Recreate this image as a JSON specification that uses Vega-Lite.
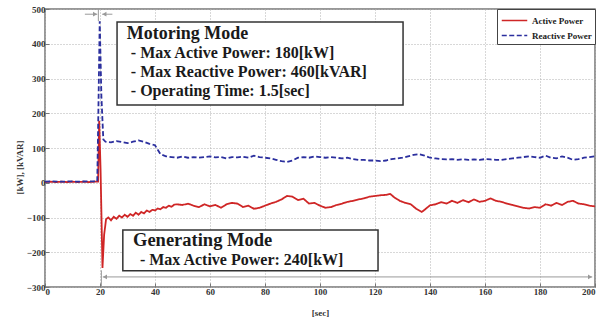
{
  "$schema": "https://vega.github.io/schema/vega-lite/v6.json",
  "width": 550,
  "height": 278,
  "autosize": {"type": "none"},
  "padding": {"left": 45, "top": 9, "right": 10, "bottom": 32},
  "background": "white",
  "config": {
    "view": {"stroke": "#777", "strokeWidth": 1.5},
    "axis": {
      "labelFont": "Liberation Serif", "labelFontWeight": "bold", "labelFontSize": 9, "labelColor": "#333",
      "titleFont": "Liberation Serif", "titleFontWeight": "bold", "titleFontSize": 9, "titleColor": "#333",
      "gridColor": "#b0b0b0", "gridDash": [1, 2], "gridWidth": 1,
      "domain": false, "tickColor": "#777", "tickSize": -4, "labelPadding": 4
    },
    "legend": {
      "orient": "top-right", "offset": 0, "strokeColor": "#444", "fillColor": "white", "padding": 3,
      "labelFont": "Liberation Serif", "labelFontWeight": "bold", "labelFontSize": 9, "labelColor": "#222",
      "symbolType": "M-1.7,0H1.7", "symbolSize": 225, "symbolStrokeWidth": 1.6,
      "labelOffset": 9, "symbolOffset": 6, "rowPadding": 1
    }
  },
  "layer": [
    {
      "data": {"values": [
        {"t":0,"p":2,"s":"Active Power"},{"t":2,"p":3,"s":"Active Power"},{"t":4,"p":2,"s":"Active Power"},{"t":6,"p":3,"s":"Active Power"},{"t":8,"p":2,"s":"Active Power"},{"t":10,"p":3,"s":"Active Power"},{"t":12,"p":2,"s":"Active Power"},{"t":14,"p":3,"s":"Active Power"},{"t":16,"p":2,"s":"Active Power"},{"t":18,"p":3,"s":"Active Power"},{"t":19.3,"p":3,"s":"Active Power"},{"t":19.7,"p":178,"s":"Active Power"},{"t":20.2,"p":40,"s":"Active Power"},{"t":20.9,"p":-245,"s":"Active Power"},{"t":21.5,"p":-150,"s":"Active Power"},{"t":22.2,"p":-105,"s":"Active Power"},{"t":23,"p":-100,"s":"Active Power"},{"t":24,"p":-108,"s":"Active Power"},{"t":25,"p":-98,"s":"Active Power"},{"t":26,"p":-104,"s":"Active Power"},{"t":27,"p":-95,"s":"Active Power"},{"t":28,"p":-100,"s":"Active Power"},{"t":29,"p":-92,"s":"Active Power"},{"t":30,"p":-98,"s":"Active Power"},{"t":31,"p":-90,"s":"Active Power"},{"t":32,"p":-95,"s":"Active Power"},{"t":33,"p":-86,"s":"Active Power"},{"t":34,"p":-92,"s":"Active Power"},{"t":35,"p":-84,"s":"Active Power"},{"t":36,"p":-88,"s":"Active Power"},{"t":37,"p":-80,"s":"Active Power"},{"t":38,"p":-84,"s":"Active Power"},{"t":39,"p":-78,"s":"Active Power"},{"t":40,"p":-80,"s":"Active Power"},{"t":41,"p":-74,"s":"Active Power"},{"t":42,"p":-76,"s":"Active Power"},{"t":43,"p":-70,"s":"Active Power"},{"t":44,"p":-72,"s":"Active Power"},{"t":45,"p":-66,"s":"Active Power"},{"t":46,"p":-69,"s":"Active Power"},{"t":47,"p":-63,"s":"Active Power"},{"t":48,"p":-62,"s":"Active Power"},{"t":50,"p":-64,"s":"Active Power"},{"t":52,"p":-60,"s":"Active Power"},{"t":54,"p":-66,"s":"Active Power"},{"t":56,"p":-70,"s":"Active Power"},{"t":58,"p":-62,"s":"Active Power"},{"t":60,"p":-68,"s":"Active Power"},{"t":62,"p":-64,"s":"Active Power"},{"t":64,"p":-72,"s":"Active Power"},{"t":66,"p":-62,"s":"Active Power"},{"t":68,"p":-58,"s":"Active Power"},{"t":70,"p":-60,"s":"Active Power"},{"t":72,"p":-70,"s":"Active Power"},{"t":74,"p":-66,"s":"Active Power"},{"t":76,"p":-75,"s":"Active Power"},{"t":78,"p":-72,"s":"Active Power"},{"t":80,"p":-66,"s":"Active Power"},{"t":82,"p":-60,"s":"Active Power"},{"t":84,"p":-55,"s":"Active Power"},{"t":86,"p":-48,"s":"Active Power"},{"t":88,"p":-38,"s":"Active Power"},{"t":90,"p":-40,"s":"Active Power"},{"t":92,"p":-50,"s":"Active Power"},{"t":94,"p":-46,"s":"Active Power"},{"t":96,"p":-60,"s":"Active Power"},{"t":98,"p":-58,"s":"Active Power"},{"t":100,"p":-66,"s":"Active Power"},{"t":102,"p":-72,"s":"Active Power"},{"t":104,"p":-70,"s":"Active Power"},{"t":106,"p":-64,"s":"Active Power"},{"t":108,"p":-60,"s":"Active Power"},{"t":110,"p":-55,"s":"Active Power"},{"t":112,"p":-52,"s":"Active Power"},{"t":114,"p":-48,"s":"Active Power"},{"t":116,"p":-45,"s":"Active Power"},{"t":118,"p":-40,"s":"Active Power"},{"t":120,"p":-38,"s":"Active Power"},{"t":122,"p":-36,"s":"Active Power"},{"t":124,"p":-35,"s":"Active Power"},{"t":125.5,"p":-32,"s":"Active Power"},{"t":127,"p":-42,"s":"Active Power"},{"t":129,"p":-52,"s":"Active Power"},{"t":131,"p":-58,"s":"Active Power"},{"t":133,"p":-62,"s":"Active Power"},{"t":135,"p":-75,"s":"Active Power"},{"t":137,"p":-84,"s":"Active Power"},{"t":138,"p":-78,"s":"Active Power"},{"t":140,"p":-65,"s":"Active Power"},{"t":142,"p":-62,"s":"Active Power"},{"t":144,"p":-56,"s":"Active Power"},{"t":146,"p":-60,"s":"Active Power"},{"t":148,"p":-52,"s":"Active Power"},{"t":150,"p":-58,"s":"Active Power"},{"t":152,"p":-50,"s":"Active Power"},{"t":154,"p":-56,"s":"Active Power"},{"t":156,"p":-48,"s":"Active Power"},{"t":158,"p":-55,"s":"Active Power"},{"t":160,"p":-52,"s":"Active Power"},{"t":162,"p":-45,"s":"Active Power"},{"t":164,"p":-52,"s":"Active Power"},{"t":166,"p":-55,"s":"Active Power"},{"t":168,"p":-60,"s":"Active Power"},{"t":170,"p":-64,"s":"Active Power"},{"t":172,"p":-68,"s":"Active Power"},{"t":174,"p":-72,"s":"Active Power"},{"t":176,"p":-74,"s":"Active Power"},{"t":178,"p":-70,"s":"Active Power"},{"t":180,"p":-72,"s":"Active Power"},{"t":182,"p":-62,"s":"Active Power"},{"t":184,"p":-66,"s":"Active Power"},{"t":186,"p":-58,"s":"Active Power"},{"t":188,"p":-64,"s":"Active Power"},{"t":190,"p":-55,"s":"Active Power"},{"t":192,"p":-52,"s":"Active Power"},{"t":194,"p":-60,"s":"Active Power"},{"t":196,"p":-62,"s":"Active Power"},{"t":198,"p":-66,"s":"Active Power"},{"t":200,"p":-68,"s":"Active Power"},
        {"t":0,"p":3,"s":"Reactive Power"},{"t":3,"p":4,"s":"Reactive Power"},{"t":6,"p":3,"s":"Reactive Power"},{"t":9,"p":4,"s":"Reactive Power"},{"t":12,"p":3,"s":"Reactive Power"},{"t":15,"p":4,"s":"Reactive Power"},{"t":19,"p":4,"s":"Reactive Power"},{"t":19.4,"p":200,"s":"Reactive Power"},{"t":19.9,"p":465,"s":"Reactive Power"},{"t":20.5,"p":250,"s":"Reactive Power"},{"t":21.2,"p":125,"s":"Reactive Power"},{"t":22,"p":118,"s":"Reactive Power"},{"t":24,"p":116,"s":"Reactive Power"},{"t":26,"p":120,"s":"Reactive Power"},{"t":28,"p":117,"s":"Reactive Power"},{"t":30,"p":114,"s":"Reactive Power"},{"t":32,"p":118,"s":"Reactive Power"},{"t":34,"p":122,"s":"Reactive Power"},{"t":36,"p":118,"s":"Reactive Power"},{"t":38,"p":112,"s":"Reactive Power"},{"t":40,"p":108,"s":"Reactive Power"},{"t":41,"p":95,"s":"Reactive Power"},{"t":42,"p":82,"s":"Reactive Power"},{"t":44,"p":76,"s":"Reactive Power"},{"t":46,"p":74,"s":"Reactive Power"},{"t":48,"p":72,"s":"Reactive Power"},{"t":50,"p":76,"s":"Reactive Power"},{"t":52,"p":72,"s":"Reactive Power"},{"t":54,"p":74,"s":"Reactive Power"},{"t":56,"p":72,"s":"Reactive Power"},{"t":58,"p":74,"s":"Reactive Power"},{"t":60,"p":76,"s":"Reactive Power"},{"t":62,"p":73,"s":"Reactive Power"},{"t":64,"p":74,"s":"Reactive Power"},{"t":66,"p":70,"s":"Reactive Power"},{"t":68,"p":74,"s":"Reactive Power"},{"t":70,"p":73,"s":"Reactive Power"},{"t":72,"p":75,"s":"Reactive Power"},{"t":74,"p":72,"s":"Reactive Power"},{"t":76,"p":78,"s":"Reactive Power"},{"t":78,"p":74,"s":"Reactive Power"},{"t":80,"p":72,"s":"Reactive Power"},{"t":82,"p":70,"s":"Reactive Power"},{"t":84,"p":66,"s":"Reactive Power"},{"t":86,"p":62,"s":"Reactive Power"},{"t":88,"p":60,"s":"Reactive Power"},{"t":90,"p":64,"s":"Reactive Power"},{"t":92,"p":72,"s":"Reactive Power"},{"t":94,"p":74,"s":"Reactive Power"},{"t":96,"p":72,"s":"Reactive Power"},{"t":98,"p":76,"s":"Reactive Power"},{"t":100,"p":74,"s":"Reactive Power"},{"t":102,"p":72,"s":"Reactive Power"},{"t":104,"p":74,"s":"Reactive Power"},{"t":106,"p":72,"s":"Reactive Power"},{"t":108,"p":70,"s":"Reactive Power"},{"t":110,"p":72,"s":"Reactive Power"},{"t":112,"p":68,"s":"Reactive Power"},{"t":114,"p":66,"s":"Reactive Power"},{"t":116,"p":66,"s":"Reactive Power"},{"t":118,"p":64,"s":"Reactive Power"},{"t":120,"p":64,"s":"Reactive Power"},{"t":122,"p":62,"s":"Reactive Power"},{"t":124,"p":64,"s":"Reactive Power"},{"t":126,"p":68,"s":"Reactive Power"},{"t":128,"p":70,"s":"Reactive Power"},{"t":130,"p":72,"s":"Reactive Power"},{"t":132,"p":76,"s":"Reactive Power"},{"t":134,"p":80,"s":"Reactive Power"},{"t":136,"p":82,"s":"Reactive Power"},{"t":138,"p":78,"s":"Reactive Power"},{"t":140,"p":72,"s":"Reactive Power"},{"t":142,"p":70,"s":"Reactive Power"},{"t":144,"p":68,"s":"Reactive Power"},{"t":146,"p":67,"s":"Reactive Power"},{"t":148,"p":68,"s":"Reactive Power"},{"t":150,"p":66,"s":"Reactive Power"},{"t":152,"p":68,"s":"Reactive Power"},{"t":154,"p":66,"s":"Reactive Power"},{"t":156,"p":67,"s":"Reactive Power"},{"t":158,"p":66,"s":"Reactive Power"},{"t":160,"p":68,"s":"Reactive Power"},{"t":162,"p":67,"s":"Reactive Power"},{"t":164,"p":66,"s":"Reactive Power"},{"t":166,"p":66,"s":"Reactive Power"},{"t":168,"p":68,"s":"Reactive Power"},{"t":170,"p":70,"s":"Reactive Power"},{"t":172,"p":72,"s":"Reactive Power"},{"t":174,"p":74,"s":"Reactive Power"},{"t":176,"p":76,"s":"Reactive Power"},{"t":178,"p":74,"s":"Reactive Power"},{"t":180,"p":72,"s":"Reactive Power"},{"t":182,"p":78,"s":"Reactive Power"},{"t":184,"p":72,"s":"Reactive Power"},{"t":186,"p":70,"s":"Reactive Power"},{"t":188,"p":76,"s":"Reactive Power"},{"t":190,"p":72,"s":"Reactive Power"},{"t":192,"p":66,"s":"Reactive Power"},{"t":194,"p":68,"s":"Reactive Power"},{"t":196,"p":72,"s":"Reactive Power"},{"t":198,"p":74,"s":"Reactive Power"},{"t":200,"p":76,"s":"Reactive Power"}
      ]},
      "mark": {"type": "line", "strokeWidth": 1.8},
      "encoding": {
        "x": {"field": "t", "type": "quantitative", "scale": {"domain": [0, 200], "nice": false},
              "axis": {"title": "[sec]", "values": [0,20,40,60,80,100,120,140,160,180,200], "titleY": 25, "titleBaseline": "middle", "labelOverlap": false}},
        "y": {"field": "p", "type": "quantitative", "scale": {"domain": [-300, 500], "nice": false},
              "axis": {"title": "[kW], [kVAR]", "values": [-300,-200,-100,0,100,200,300,400,500], "tickCount": 9, "labelOverlap": false, "labelSeparation": 0, "titleX": -26, "titleY": 158, "titleBaseline": "middle", "titleAlign": "center"}},
        "color": {"field": "s", "type": "nominal", "title": null,
                  "scale": {"domain": ["Active Power", "Reactive Power"], "range": ["#cf2626", "#2b2f9e"]}},
        "strokeDash": {"field": "s", "type": "nominal", "title": null,
                  "scale": {"domain": ["Active Power", "Reactive Power"], "range": [[1, 0], [5, 2.5]]}},
        "order": {"field": "t", "type": "quantitative"}
      }
    },
    {
      "data": {"values": [{}]},
      "mark": {"type": "rule", "color": "#999", "strokeWidth": 1},
      "encoding": {"x": {"datum": 21}, "x2": {"datum": 199}, "y": {"datum": -271}}
    },
    {
      "data": {"values": [{}]},
      "mark": {"type": "rule", "color": "#999", "strokeWidth": 1},
      "encoding": {"x": {"datum": 20.5}, "y": {"datum": -252}, "y2": {"datum": -300}}
    },
    {
      "data": {"values": [{}]},
      "mark": {"type": "rule", "color": "#999", "strokeWidth": 1},
      "encoding": {"x": {"datum": 14.5}, "x2": {"datum": 19}, "y": {"datum": 485}}
    },
    {
      "data": {"values": [{}]},
      "mark": {"type": "rule", "color": "#999", "strokeWidth": 1},
      "encoding": {"x": {"datum": 20.8}, "x2": {"datum": 24.5}, "y": {"datum": 485}}
    },
    {
      "data": {"values": [{}]},
      "mark": {"type": "rule", "color": "#999", "strokeWidth": 1},
      "encoding": {"x": {"datum": 19.4}, "y": {"datum": 500}, "y2": {"datum": 465}}
    },
    {
      "data": {"values": [{}]},
      "mark": {"type": "point", "shape": "triangle-right", "filled": true, "color": "#999", "size": 22, "opacity": 1},
      "encoding": {"x": {"datum": 18.2}, "y": {"datum": 485}}
    },
    {
      "data": {"values": [{}]},
      "mark": {"type": "point", "shape": "triangle-left", "filled": true, "color": "#999", "size": 22, "opacity": 1},
      "encoding": {"x": {"datum": 21.6}, "y": {"datum": 485}}
    },
    {
      "data": {"values": [{}]},
      "mark": {"type": "point", "shape": "triangle-left", "filled": true, "color": "#999", "size": 22, "opacity": 1},
      "encoding": {"x": {"datum": 21.8}, "y": {"datum": -271}}
    },
    {
      "data": {"values": [{}]},
      "mark": {"type": "point", "shape": "triangle-right", "filled": true, "color": "#999", "size": 22, "opacity": 1},
      "encoding": {"x": {"datum": 198.2}, "y": {"datum": -271}}
    },
    {
      "data": {"values": [{}]},
      "mark": {"type": "rect", "fill": "white", "stroke": "#333", "strokeWidth": 1.5},
      "encoding": {"x": {"datum": 26.2}, "x2": {"datum": 130.2}, "y": {"datum": 462.6}, "y2": {"datum": 223.7}}
    },
    {
      "data": {"values": [{}]},
      "mark": {"type": "rect", "fill": "white", "stroke": "#333", "strokeWidth": 1.5},
      "encoding": {"x": {"datum": 28.3}, "x2": {"datum": 121.1}, "y": {"datum": -136}, "y2": {"datum": -253}}
    },
    {
      "data": {"values": [{}]},
      "mark": {"type": "text", "text": "Motoring Mode", "font": "Liberation Serif", "fontWeight": "bold", "fontSize": 18, "color": "#1a1a1a", "align": "left", "baseline": "alphabetic"},
      "encoding": {"x": {"datum": 29.7}, "y": {"datum": 414}}
    },
    {
      "data": {"values": [{}]},
      "mark": {"type": "text", "text": "- Max Active Power: 180[kW]", "font": "Liberation Serif", "fontWeight": "bold", "fontSize": 16, "color": "#1a1a1a", "align": "left", "baseline": "alphabetic"},
      "encoding": {"x": {"datum": 31.2}, "y": {"datum": 359}}
    },
    {
      "data": {"values": [{}]},
      "mark": {"type": "text", "text": "- Max Reactive Power: 460[kVAR]", "font": "Liberation Serif", "fontWeight": "bold", "fontSize": 16, "color": "#1a1a1a", "align": "left", "baseline": "alphabetic"},
      "encoding": {"x": {"datum": 31.2}, "y": {"datum": 305}}
    },
    {
      "data": {"values": [{}]},
      "mark": {"type": "text", "text": "- Operating Time: 1.5[sec]", "font": "Liberation Serif", "fontWeight": "bold", "fontSize": 16, "color": "#1a1a1a", "align": "left", "baseline": "alphabetic"},
      "encoding": {"x": {"datum": 31.2}, "y": {"datum": 250}}
    },
    {
      "data": {"values": [{}]},
      "mark": {"type": "text", "text": "Generating Mode", "font": "Liberation Serif", "fontWeight": "bold", "fontSize": 18.5, "color": "#1a1a1a", "align": "left", "baseline": "alphabetic"},
      "encoding": {"x": {"datum": 32}, "y": {"datum": -182}}
    },
    {
      "data": {"values": [{}]},
      "mark": {"type": "text", "text": "- Max Active Power: 240[kW]", "font": "Liberation Serif", "fontWeight": "bold", "fontSize": 16, "color": "#1a1a1a", "align": "left", "baseline": "alphabetic"},
      "encoding": {"x": {"datum": 34.5}, "y": {"datum": -237}}
    }
  ]
}
